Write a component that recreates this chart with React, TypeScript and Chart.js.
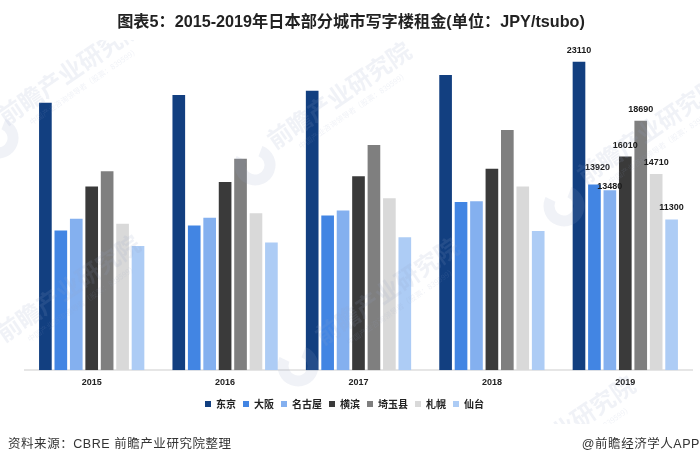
import { useEffect, useRef } from "react";
import { Chart, Plugin, registerables } from "chart.js";

Chart.register(...registerables);

const years = ["2015", "2016", "2017", "2018", "2019"];
const cities = ["东京", "大阪", "名古屋", "横滨", "埼玉县", "札幌", "仙台"];
const tokyo = [20040, 20620, 20950, 22130, 23110];
const osaka = [10470, 10850, 11600, 12600, 13920];
const nagoya = [11350, 11420, 11970, 12670, 13480];
const yokohama = [13760, 14100, 14540, 15090, 16010];
const saitama = [14910, 15840, 16880, 18000, 18690];
const sapporo = [10970, 11760, 12880, 13760, 14710];
const sendai = [9310, 9580, 9960, 10440, 11300];
const colors = ["#123F80", "#4285E3", "#84B0EF", "#3A3A3A", "#7F7F7F", "#D9D9D9", "#ADCCF5"];

const seriesValues = [tokyo, osaka, nagoya, yokohama, saitama, sapporo, sendai];

const FONT = "'Liberation Sans', 'Noto Sans CJK SC', sans-serif";

// only the last year is labelled in the original, two labels are nudged to sit apart
const labelNudge: Record<number, [number, number]> = {
  1: [3, -5],
  2: [0, 7.5],
};

const lastYearLabels: Plugin<"bar"> = {
  id: "lastYearLabels",
  afterDatasetsDraw(chart) {
    const ctx = chart.ctx;
    const last = years.length - 1;
    ctx.save();
    ctx.font = `bold 9px ${FONT}`;
    ctx.fillStyle = "#1a1a1a";
    ctx.textAlign = "center";
    ctx.textBaseline = "middle";
    seriesValues.forEach((values, i) => {
      const bar = chart.getDatasetMeta(i).data[last];
      const [dx, dy] = labelNudge[i] ?? [0, 0];
      ctx.fillText(String(values[last]), bar.x + dx, bar.y - 11.5 + dy);
    });
    ctx.restore();
  },
};

// legend in the original is centred on the page, not on the plot
const shiftLegend: Plugin<"bar"> = {
  id: "shiftLegend",
  afterLayout(chart) {
    const legend = chart.legend;
    if (legend) {
      legend.left -= 14;
      legend.right -= 14;
    }
  },
};

// faint site watermark: [x, y] of the start of each rotated text
const marks = [
  [6, 126],
  [4, 343],
  [275, 150],
  [323, 346],
  [585, 185],
  [499, 484],
];
const logos = [
  [-2, 138],
  [255, 165],
  [298, 366],
  [564, 206],
];

const watermark: Plugin<"bar"> = {
  id: "watermark",
  afterDatasetsDraw(chart) {
    const ctx = chart.ctx;
    ctx.save();
    ctx.beginPath();
    ctx.rect(0, 40, 700, 384);
    ctx.clip();
    ctx.fillStyle = "rgba(150,165,195,0.14)";
    ctx.strokeStyle = "rgba(150,165,195,0.14)";
    logos.forEach(([x, y]) => {
      ctx.beginPath();
      ctx.lineWidth = 11;
      ctx.arc(x, y, 15, -1.2, 3.6);
      ctx.stroke();
    });
    marks.forEach(([x, y]) => {
      ctx.save();
      ctx.translate(x, y);
      ctx.rotate(-0.6);
      ctx.font = "bold 24px 'Noto Sans CJK SC', sans-serif";
      ctx.textBaseline = "alphabetic";
      ctx.fillText("前瞻产业研究院", 0, 0);
      ctx.font = "7.5px 'Noto Sans CJK SC', sans-serif";
      ctx.fillText("中国产业咨询领导者（股票：839599）", 22, 14);
      ctx.restore();
    });
    ctx.restore();
  },
};

const footStyle: React.CSSProperties = {
  position: "absolute",
  top: 435,
  fontFamily: FONT,
  fontSize: 12.5,
  lineHeight: "18px",
  color: "#333",
  whiteSpace: "nowrap",
  letterSpacing: 0.55,
};

const titleStyle: React.CSSProperties = {
  position: "absolute",
  top: 12,
  left: 0,
  width: 702,
  textAlign: "center",
  fontFamily: FONT,
  fontSize: 16.2,
  fontWeight: "bold",
  lineHeight: "18px",
  color: "#222",
  whiteSpace: "nowrap",
};

const App = () => {
  const chartRef = useRef<HTMLCanvasElement>(null);

  useEffect(() => {
    const chartInstance = new Chart(chartRef.current as HTMLCanvasElement, {
      type: "bar",
      data: {
        labels: years,
        datasets: cities.map((city, i) => ({
          label: city,
          data: seriesValues[i],
          backgroundColor: colors[i],
          barPercentage: 0.82,
          categoryPercentage: 0.81,
        })),
      },
      options: {
        responsive: false,
        animation: false,
        layout: { padding: { left: 25, right: 8, top: 50, bottom: 45 } },
        scales: {
          x: {
            grid: { display: false, tickLength: 6 },
            border: { color: "#e6e6e6", width: 2 },
            ticks: {
              color: "#222",
              padding: 1,
              font: { family: FONT, size: 9, weight: "bold" },
            },
            afterFit: (scale) => {
              scale.height += 3;
            },
          },
          y: { display: false, min: 0, max: 24000 },
        },
        plugins: {
          title: { display: false },
          legend: {
            position: "bottom",
            labels: {
              boxWidth: 6,
              boxHeight: 6,
              padding: 7,
              color: "#222",
              font: { family: "'Noto Sans CJK SC', sans-serif", size: 10, weight: "bold" },
            },
          },
          tooltip: { enabled: false },
        },
      },
      plugins: [shiftLegend, lastYearLabels, watermark],
    });

    return () => chartInstance.destroy();
  }, []);

  return (
    <div style={{ position: "absolute", left: 0, top: 0, width: 700, height: 464, background: "#fff", overflow: "hidden" }}>
      <canvas ref={chartRef} width={700} height={464} style={{ display: "block" }} />
      <span style={titleStyle}>图表5：2015-2019年日本部分城市写字楼租金(单位：JPY/tsubo)</span>
      <span style={{ ...footStyle, left: 8 }}>资料来源：CBRE 前瞻产业研究院整理</span>
      <span style={{ ...footStyle, right: 0 }}>@前瞻经济学人APP</span>
    </div>
  );
};

export default App;
